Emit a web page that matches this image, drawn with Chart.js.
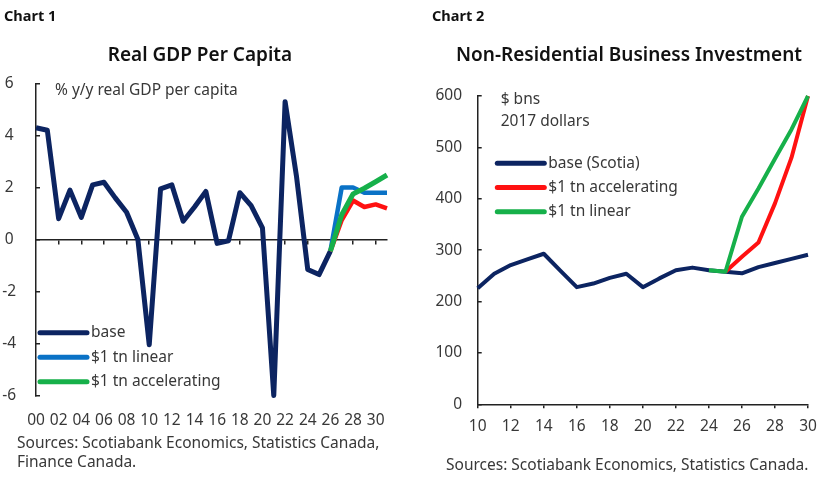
<!DOCTYPE html>
<html>
<head>
<meta charset="utf-8">
<script src="https://cdn.jsdelivr.net/npm/chart.js@4"></script>
<style>
  body { margin:0; width:828px; height:483px; position:relative; background:#fff; font-family:"Noto Sans", sans-serif; color:#222; overflow:hidden; }
  .box { position:absolute; top:0; width:414px; height:483px; }
  .txt { position:absolute; white-space:nowrap; }
  .hdr { font-weight:bold; font-size:14.5px; color:#111; }
  .ttl { font-weight:600; font-size:19px; color:#111; text-align:center; }
  .src { font-size:15.5px; color:#383838; line-height:19px; }
</style>
</head>
<body>
<div class="box" style="left:0"><canvas id="gdp"></canvas></div>
<div class="box" style="left:414px"><canvas id="inv"></canvas></div>

<div class="txt hdr" style="left:4px; top:5px">Chart 1</div>
<div class="txt hdr" style="left:432px; top:5px">Chart 2</div>
<div class="txt ttl" style="left:0; width:400px; top:41px">Real GDP Per Capita</div>
<div class="txt ttl" style="left:429px; width:400px; top:41px">Non-Residential Business Investment</div>
<div class="txt src" style="left:17px; top:433px">Sources: Scotiabank Economics, Statistics Canada,<br>Finance Canada.</div>
<div class="txt src" style="left:446px; top:455px">Sources: Scotiabank Economics, Statistics Canada.</div>

<script>
// Chart 1 - real GDP per capita, % y/y
const gdpYears = [2000,2001,2002,2003,2004,2005,2006,2007,2008,2009,2010,2011,2012,2013,2014,2015,
                  2016,2017,2018,2019,2020,2021,2022,2023,2024,2025,2026];
const gdpBase = [4.3,4.2,0.8,1.9,0.85,2.1,2.2,1.6,1.05,0.0,-4.05,1.95,2.1,0.7,1.25,1.85,
                 -0.15,-0.05,1.8,1.3,0.45,-6.0,5.3,2.45,-1.15,-1.35,-0.45];
const projYears = [2026,2027,2028,2029,2030,2031];
const gdpLinear = [-0.45,2.0,2.0,1.8,1.8,1.8];
const gdpAccel = [-0.45,0.95,1.75,1.97,2.22,2.48];
const gdpAccelRed = [-0.45,0.75,1.5,1.25,1.35,1.2];
const gdpTicks = [2000,2002,2004,2006,2008,2010,2012,2014,2016,2018,2020,2022,2024,2026,2028,2030];
const gdpYTicks = [-6,-4,-2,0,2,4,6];

// Chart 2 - non-residential business investment, $ bns 2017 dollars
const invYears = [2010,2011,2012,2013,2014,2015,2016,2017,2018,2019,2020,
                  2021,2022,2023,2024,2025,2026,2027,2028,2029,2030];
const invBase = [226,254,271,282,293,260,228,235,246,254,228,245,261,266,261,258,255,267,275,283,291];
const invLinYears = [2024,2025,2026,2027,2028,2029,2030];
const invLinear = [261,258,365,420,478,535,600];
const invAccYears = [2025,2026,2027,2028,2029,2030];
const invAccel = [258,287,315,391,480,600];
const invTicks = [2010,2012,2014,2016,2018,2020,2022,2024,2026,2028,2030];
const invYTicks = [0,100,200,300,400,500,600];

const NAVY = '#0c2461', BLUE = '#0a72c6', GREEN = '#16b04a', RED = '#ff1111';
const AXIS = '#222';
const FONT = {family: "'Noto Sans', sans-serif", size: 15.5};

function pts(xs, ys) { return xs.map((x, i) => ({x: x, y: ys[i]})); }
function twoDigit(v) { return String(v % 100).padStart(2, '0'); }
function setTicks(list) { return function (scale) { scale.ticks = list.map(v => ({value: v})); }; }

// legend and side notes drawn inside the plot
const notesPlugin = {
    id: 'notes',
    afterDatasetsDraw(chart, args, opts) {
        const ctx = chart.ctx;
        ctx.save();
        ctx.font = "15.5px 'Noto Sans', sans-serif";
        ctx.fillStyle = '#383838';
        ctx.textBaseline = 'middle';
        let y = opts.legendY;
        chart.data.datasets.forEach(ds => {
            if (ds.noLegend) return;
            ctx.strokeStyle = ds.borderColor;
            ctx.lineWidth = 5;
            ctx.lineCap = 'round';
            ctx.beginPath();
            ctx.moveTo(opts.legendX, y);
            ctx.lineTo(opts.legendX + opts.legendLen, y);
            ctx.stroke();
            ctx.fillText(ds.label, opts.legendX + opts.legendLen + 4, y);
            y += opts.legendStep;
        });
        (opts.notes || []).forEach(n => ctx.fillText(n.text, n.x, n.y));
        ctx.restore();
    }
};

function lineSet(label, color, data, width, order, extra) {
    return Object.assign({
        label: label, data: data, borderColor: color, backgroundColor: color,
        borderWidth: width, pointRadius: 0, tension: 0, order: order,
        borderJoinStyle: 'round', clip: false
    }, extra || {});
}

new Chart(document.getElementById('gdp'), {
    type: 'line',
    data: {
        datasets: [
            lineSet('base', NAVY, pts(gdpYears, gdpBase), 5, 3),
            lineSet('$1 tn linear', BLUE, pts(projYears, gdpLinear), 4.5, 2),
            lineSet('$1 tn accelerating', GREEN, pts(projYears, gdpAccel), 5, 0),
            lineSet('', RED, pts(projYears, gdpAccelRed), 4.5, 1, {noLegend: true})
        ]
    },
    options: {
        responsive: true, maintainAspectRatio: false, animation: false,
        layout: {padding: {top: 83.5, right: 27, left: 0, bottom: 0}},
        plugins: {
            legend: {display: false}, tooltip: {enabled: false},
            notes: {legendX: 40, legendLen: 47, legendY: 332.7, legendStep: 24.5,
                    notes: [{text: '% y/y real GDP per capita', x: 55, y: 91}]}
        },
        scales: {
            x: {
                type: 'linear', min: 2000, max: 2031,
                afterBuildTicks: setTicks(gdpTicks),
                afterFit: s => { s.height = 87.5; },
                grid: {display: false}, border: {display: false},
                ticks: {autoSkip: false, maxRotation: 0, padding: 8, color: '#383838', font: FONT,
                        callback: v => twoDigit(v)}
            },
            x2: {
                type: 'linear', min: 2000, max: 2031, position: {y: 0},
                afterBuildTicks: setTicks(gdpTicks.slice(1)),
                grid: {drawOnChartArea: false, drawTicks: true, tickLength: 4, color: AXIS, lineWidth: 1.5},
                border: {display: true, color: AXIS, width: 1.5},
                ticks: {display: false}
            },
            y: {
                min: -6, max: 6,
                afterBuildTicks: setTicks(gdpYTicks),
                afterFit: s => { s.width = 36; },
                grid: {drawOnChartArea: false, drawTicks: true, tickLength: -4, color: AXIS, lineWidth: 1.5},
                border: {display: true, color: AXIS, width: 1.5},
                ticks: {crossAlign: 'center', padding: 24, color: '#383838', font: FONT}
            }
        }
    },
    plugins: [notesPlugin]
});

new Chart(document.getElementById('inv'), {
    type: 'line',
    data: {
        datasets: [
            lineSet('base (Scotia)', NAVY, pts(invYears, invBase), 4, 2),
            lineSet('$1 tn accelerating', RED, pts(invAccYears, invAccel), 4, 1),
            lineSet('$1 tn linear', GREEN, pts(invLinYears, invLinear), 4, 0)
        ]
    },
    options: {
        responsive: true, maintainAspectRatio: false, animation: false,
        layout: {padding: {top: 96, right: 20, left: 0, bottom: 0}},
        plugins: {
            legend: {display: false}, tooltip: {enabled: false},
            notes: {legendX: 83.3, legendLen: 47, legendY: 163.3, legendStep: 24.2,
                    notes: [{text: '$ bns', x: 86.7, y: 99.3}, {text: '2017 dollars', x: 86.7, y: 121.7}]}
        },
        scales: {
            x: {
                type: 'linear', min: 2010, max: 2030,
                afterBuildTicks: setTicks(invTicks),
                afterFit: s => { s.height = 78.7; },
                grid: {drawOnChartArea: false, drawTicks: true, tickLength: 4, color: AXIS, lineWidth: 1.5},
                border: {display: true, color: AXIS, width: 1.5},
                ticks: {autoSkip: false, maxRotation: 0, padding: 9, color: '#383838', font: FONT,
                        callback: v => twoDigit(v)}
            },
            y: {
                min: 0, max: 600,
                afterBuildTicks: setTicks(invYTicks),
                afterFit: s => { s.width = 63.7; },
                grid: {drawOnChartArea: false, drawTicks: true, tickLength: -4, color: AXIS, lineWidth: 1.5},
                border: {display: true, color: AXIS, width: 1.5},
                ticks: {padding: 19.7, color: '#383838', font: FONT}
            }
        }
    },
    plugins: [notesPlugin]
});
</script>
</body>
</html>
